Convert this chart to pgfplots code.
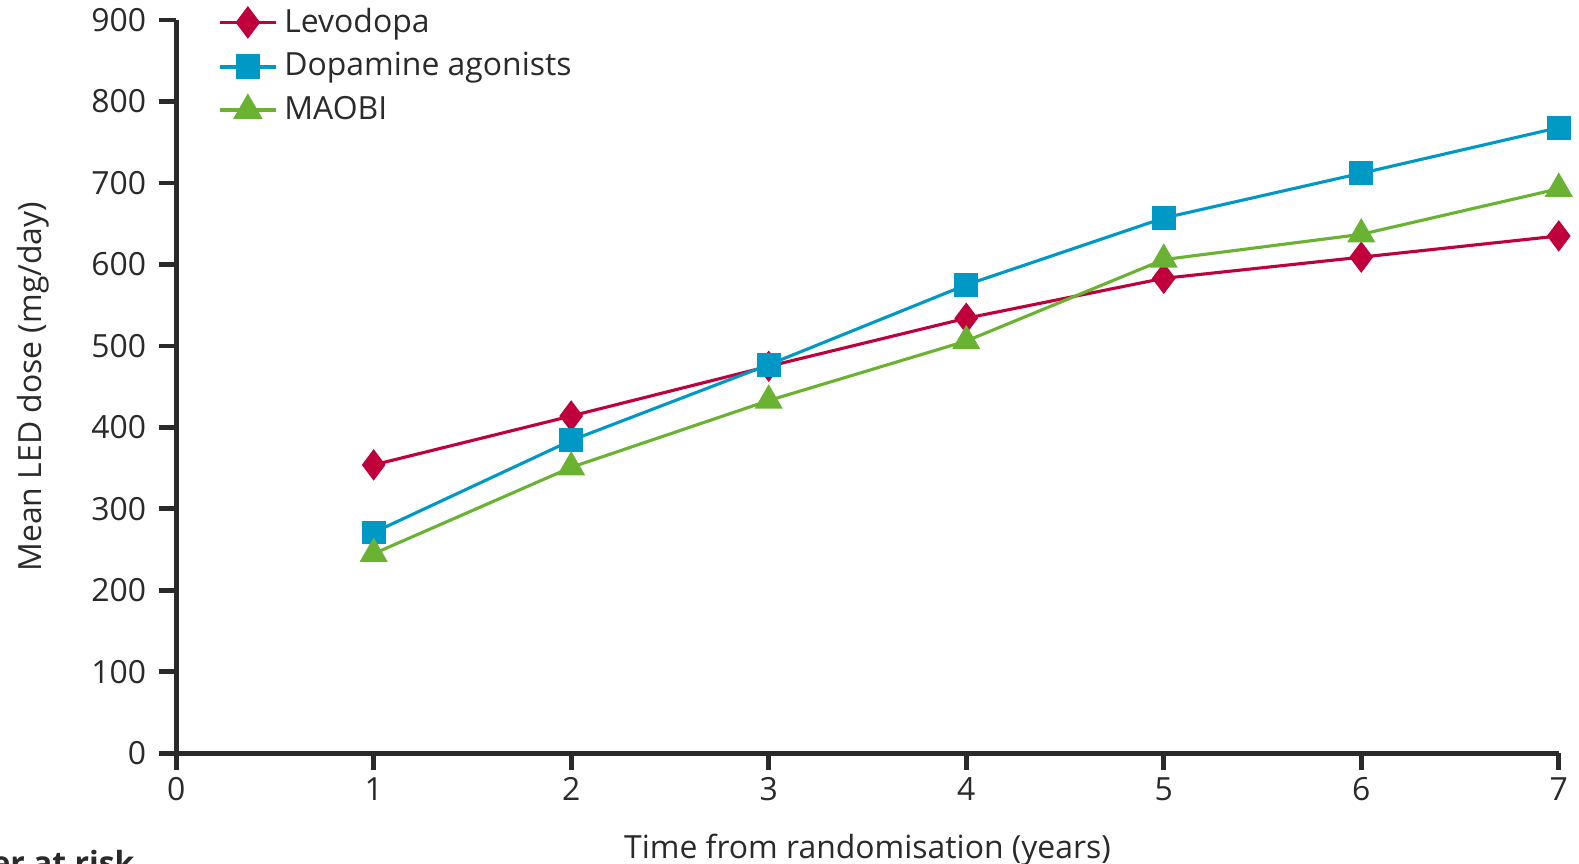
\documentclass[border=0pt]{standalone}
\usepackage{pgfplots}
\pgfplotsset{compat=1.18}
\usepackage{fontspec}
\setmainfont{Open Sans}
\definecolor{levo}{HTML}{C0003C}
\definecolor{dopa}{HTML}{0099C6}
\definecolor{maobi}{HTML}{6AB232}
\definecolor{txt}{HTML}{2A2A2A}
\begin{document}
\fontsize{9.2}{11}\selectfont
\begin{tikzpicture}
\begin{axis}[
  at={(1.785cm,1.112cm)}, anchor=south west,
  scale only axis, width=14.01cm, height=7.43cm,
  xmin=0, xmax=7, ymin=0, ymax=900,
  xtick={0,1,...,7}, ytick={0,100,...,900},
  axis lines*=left,
  axis line style={line width=1.4pt, txt},
  tick style={line width=1.4pt, txt},
  tick align=outside,
  major tick length=0.17cm,
  clip=false,
  /pgf/number format/assume math mode=true,
  ticklabel style={font=\fontsize{9.2}{11}\selectfont, text=txt},
  xticklabel style={yshift=0.04cm},
  yticklabel style={xshift=-0.02cm},
  xlabel={Time from randomisation (years)},
  ylabel={Mean LED dose (mg/day)},
  label style={font=\fontsize{9.2}{11}\selectfont, text=txt},
  xlabel style={yshift=-0.11cm},
  ylabel style={yshift=0.2cm},
  legend style={at={(0.03,1.027)}, anchor=north west, draw=none, fill=none,
     font=\fontsize{9.2}{11}\selectfont, text=txt, row sep=0.5pt,
     legend cell align=left, inner sep=0pt},
  legend image code/.code={%
     \draw[line width=1.1pt, mark repeat=2,mark phase=2] plot coordinates {(0cm,0cm)(0.28cm,0cm)(0.56cm,0cm)};},
  every axis plot/.append style={line width=0.9pt},
]
\addplot[levo, mark=diamond*, mark size=3.8pt, mark options={solid, fill=levo}]
  coordinates {(1,354) (2,414) (3,475) (4,534) (5,583) (6,609) (7,635)};
\addlegendentry{Levodopa}
\addplot[dopa, mark=square*, mark size=3.0pt, mark options={solid, fill=dopa}]
  coordinates {(1,271) (2,384) (3,477) (4,575) (5,657) (6,712) (7,768)};
\addlegendentry{Dopamine agonists}
\addplot[maobi, mark=triangle*, mark size=3.8pt, mark options={solid, fill=maobi}]
  coordinates {(1,245) (2,351) (3,433) (4,506) (5,606) (6,637) (7,693)};
\addlegendentry{MAOBI}
\end{axis}
\node[anchor=base east, font=\fontsize{9.2}{11}\selectfont\bfseries, text=txt, inner sep=0pt] at (1.37cm,-0.12cm) {Number at risk};
\pgfresetboundingbox
\path (0,0) rectangle (16cm,8.745cm);
\end{tikzpicture}
\end{document}
